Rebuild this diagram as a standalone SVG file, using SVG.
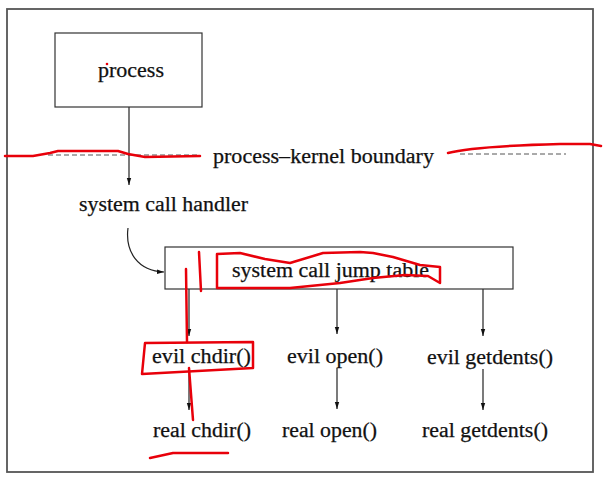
<svg xmlns="http://www.w3.org/2000/svg" width="609" height="483" viewBox="0 0 609 483">
<defs>
<marker id="ah" markerWidth="8" markerHeight="8" refX="7" refY="3" orient="auto" markerUnits="userSpaceOnUse">
<path d="M0,0.8 L7,3 L0,5.2 Z" fill="#111"/>
</marker>
<style>
.t{font-family:"Liberation Serif","Times New Roman",serif;font-size:20.5px;fill:#111;stroke:#111;stroke-width:0.25;}
.box{fill:#fff;stroke:#333;stroke-width:1.2;}
.c{fill:none;stroke:#222;stroke-width:1.2;marker-end:url(#ah);}
.dash{fill:none;stroke:#555;stroke-width:1;stroke-dasharray:5,3;}
.red{fill:none;stroke:#e8000a;stroke-width:2.5;stroke-linecap:round;stroke-linejoin:round;}
</style>
</defs>
<rect width="609" height="483" fill="#fff"/>
<rect x="7" y="9" width="586" height="463" fill="none" stroke="#555" stroke-width="1.8"/>

<g id="boundary">
<line class="dash" x1="48" y1="155" x2="200" y2="155"/>
<line class="dash" x1="460" y1="154" x2="566" y2="154"/>
<text class="t" x="213" y="163" textLength="221" lengthAdjust="spacingAndGlyphs">process–kernel boundary</text>
</g>

<g id="connectors">
<line class="c" x1="129" y1="107" x2="129" y2="185"/>
<path class="c" d="M128,228 C125,252 138,271 164,272"/>
<line class="c" x1="189" y1="289" x2="189" y2="336"/>
<line class="c" x1="337" y1="289" x2="337" y2="334"/>
<line class="c" x1="483" y1="289" x2="483" y2="336"/>
<line class="c" x1="189" y1="370" x2="189" y2="410"/>
<line class="c" x1="337" y1="368" x2="337" y2="409"/>
<line class="c" x1="483" y1="369" x2="483" y2="410"/>
</g>

<g id="process">
<rect class="box" x="55" y="33" width="147" height="74"/>
<text class="t" x="98" y="77" textLength="66" lengthAdjust="spacingAndGlyphs">process</text>
</g>

<g id="handler">
<text class="t" x="79" y="211" textLength="169" lengthAdjust="spacingAndGlyphs">system call handler</text>
</g>

<g id="jumptable">
<rect class="box" x="165" y="247" width="348" height="42"/>
<text class="t" x="232" y="277" textLength="197" lengthAdjust="spacingAndGlyphs">system call jump table</text>
</g>

<g id="evil-chdir"><text class="t" x="152" y="363" textLength="99" lengthAdjust="spacingAndGlyphs">evil chdir()</text></g>
<g id="evil-open"><text class="t" x="287" y="363" textLength="96" lengthAdjust="spacingAndGlyphs">evil open()</text></g>
<g id="evil-getdents"><text class="t" x="427" y="364" textLength="126" lengthAdjust="spacingAndGlyphs">evil getdents()</text></g>
<g id="real-chdir"><text class="t" x="153" y="437" textLength="98" lengthAdjust="spacingAndGlyphs">real chdir()</text></g>
<g id="real-open"><text class="t" x="282" y="437" textLength="95" lengthAdjust="spacingAndGlyphs">real open()</text></g>
<g id="real-getdents"><text class="t" x="422" y="437" textLength="126" lengthAdjust="spacingAndGlyphs">real getdents()</text></g>

<g id="annotations">
<path class="red" d="M5,156 L33,156 L50,153 L58,151 L118,151 L128,154 L145,157 L200,156"/>
<path class="red" d="M448,153 C470,147 520,145 560,144 L590,144 L601,146"/>
<path class="red" d="M199,252 L201,291"/>
<path class="red" d="M186,269 L187,342"/>
<path class="red" d="M217,254 L240,253 L265,259 L290,263 L323,253 L360,252 L373,253 L393,257 L420,265 L440,267 L440,283 L428,276 L405,275 L373,278 L340,283 L290,288 L217,288 Z"/>
<path class="red" d="M145,343 L253,342 L253,368 L142,374 Z"/>
<path class="red" d="M189,368 L193,420"/>
<path class="red" d="M150,458 L173,453 L228,453"/>
<circle cx="107" cy="64" r="1.3" fill="#e8000a"/>
</g>
</svg>
